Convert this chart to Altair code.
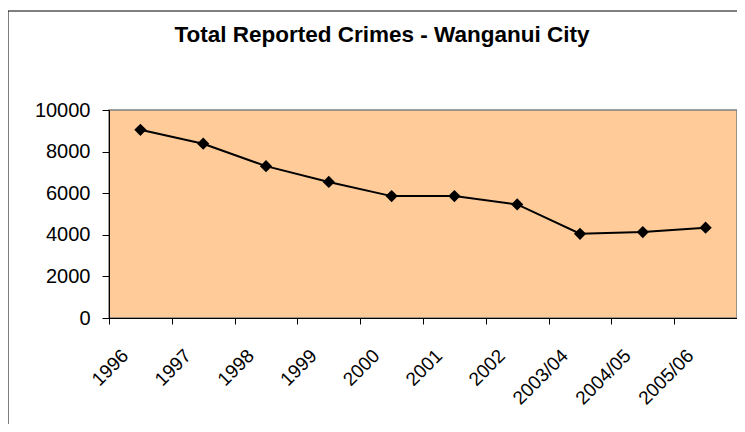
import altair as alt
import pandas as pd

periods = ["1996", "1997", "1998", "1999", "2000", "2001", "2002",
           "2003/04", "2004/05", "2005/06"]
crimes = [9050, 8380, 7300, 6540, 5860, 5860, 5460, 4050, 4130, 4340]
y_ticks = [0, 2000, 4000, 6000, 8000, 10000]

df = pd.DataFrame({"period": periods, "crimes": crimes})

FONT = "Liberation Sans"

x_enc = alt.X(
    "period:N",
    sort=periods,
    bandPosition=0.5,
    scale=alt.Scale(type="band", paddingInner=0, paddingOuter=0),
    axis=alt.Axis(
        title=None,
        tickBand="extent",
        labelAngle=-45,
        labelAlign="right",
        labelBaseline="top",
        labelOffset=-22,
        labelPadding=22,
        labelFont=FONT,
        labelFontSize=19,
        labelColor="black",
        tickColor="black",
        tickSize=6,
        domainColor="black",
        grid=False,
    ),
)
y_enc = alt.Y(
    "crimes:Q",
    scale=alt.Scale(domain=[0, 10000], nice=False),
    axis=alt.Axis(
        title=None,
        values=y_ticks,
        format="d",
        labelFont=FONT,
        labelFontSize=20,
        labelColor="black",
        labelPadding=12,
        tickColor="black",
        tickSize=7,
        domainColor="black",
        grid=False,
    ),
)

frame = alt.Chart(pd.DataFrame({"f": [0]})).mark_rect(
    filled=False, color="black", strokeWidth=1
).encode(
    x=alt.value(-101), x2=alt.value(640), y=alt.value(-99), y2=alt.value(330)
)

line = alt.Chart(df).mark_line(color="black", strokeWidth=2).encode(x=x_enc, y=y_enc)
points = alt.Chart(df).mark_point(
    shape="diamond", filled=True, color="black", size=150, opacity=1
).encode(x=x_enc, y=y_enc)

chart = alt.layer(frame, line, points).properties(
    width=628,
    height=208,
    background="white",
    autosize=alt.AutoSizeParams(type="none"),
    padding={"top": 102, "left": 101, "right": 0, "bottom": 106},
    title=alt.TitleParams(
        "Total Reported Crimes - Wanganui City",
        font=FONT,
        fontSize=22.5,
        fontWeight="bold",
        color="black",
        anchor="middle",
        dx=-41,
        offset=-54,
        baseline="alphabetic",
    ),
).configure_view(
    fill="#FFCC99", stroke="#808080", strokeWidth=1.5
)

chart.save("out.html", embed_options={"renderer": "svg", "actions": False})
